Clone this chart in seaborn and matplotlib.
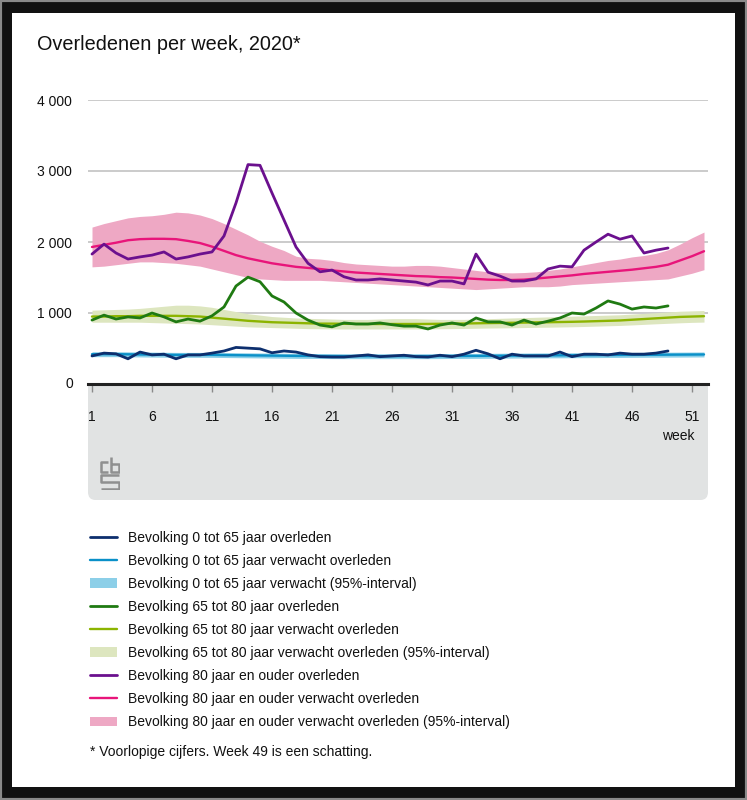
import matplotlib
matplotlib.use("Agg")
import pandas as pd
import matplotlib.pyplot as plt
import seaborn as sns
from matplotlib.patches import Rectangle, FancyBboxPatch, Patch
from matplotlib.lines import Line2D

# ========== DATA ==========
weeks_obs = list(range(1, 50))
weeks_exp = list(range(1, 53))

# 0 tot 65 jaar
obs_0_65 = [395, 435, 425, 355, 450, 410, 420, 355, 410, 410, 435, 465, 515, 505, 495,
            440, 465, 450, 410, 385, 380, 380, 395, 410, 385, 395, 405, 385, 380, 405,
            385, 420, 475, 425, 355, 420, 395, 395, 395, 450, 385, 420, 420, 410, 435,
            420, 420, 435, 465]
exp_0_65 = [420, 420, 420, 418, 416, 414, 412, 410, 410, 410, 410, 408, 406, 404, 402,
            400, 398, 396, 395, 394, 393, 392, 392, 392, 392, 392, 392, 392, 392, 393,
            394, 395, 396, 397, 398, 400, 401, 402, 403, 404, 405, 406, 407, 408, 409,
            410, 411, 412, 413, 414, 415, 416]
lo_0_65 = [v - 35 for v in exp_0_65]
hi_0_65 = [v + 35 for v in exp_0_65]

# 65 tot 80 jaar
obs_65_80 = [900, 970, 915, 945, 930, 1000, 945, 875, 915, 885, 960, 1085, 1380, 1505, 1440,
             1240, 1155, 1000, 900, 830, 805, 860, 845, 845, 860, 835, 815, 815, 775, 830,
             860, 830, 930, 875, 875, 830, 900, 845, 885, 930, 1000, 985, 1070, 1170, 1125,
             1055, 1085, 1070, 1100]
exp_65_80 = [950, 950, 955, 955, 960, 960, 960, 960, 955, 950, 935, 920, 905, 890, 880,
             870, 865, 860, 855, 850, 850, 848, 846, 845, 845, 845, 845, 845, 846, 848,
             850, 852, 855, 858, 860, 862, 865, 868, 870, 873, 876, 880, 885, 890, 895,
             905, 915, 925, 935, 945, 950, 955]
hi_65_80 = [1040, 1045, 1050, 1055, 1065, 1080, 1095, 1110, 1110, 1100, 1080, 1050, 1020, 990, 970,
            950, 940, 930, 925, 920, 915, 910, 910, 910, 915, 920, 920, 920, 915, 910,
            910, 910, 915, 920, 925, 930, 935, 940, 945, 950, 955, 960, 965, 970, 975,
            985, 995, 1005, 1015, 1025, 1030, 1035]
lo_65_80 = [870, 870, 870, 870, 870, 865, 860, 855, 850, 845, 835, 825, 815, 805, 800,
            795, 790, 785, 780, 778, 776, 775, 775, 775, 775, 775, 775, 775, 775, 778,
            780, 782, 785, 788, 790, 792, 795, 798, 800, 803, 806, 810, 815, 820, 825,
            832, 840, 848, 855, 862, 868, 872]

# 80 jaar en ouder
obs_80 = [1830, 1970, 1845, 1760, 1790, 1815, 1860, 1760, 1790, 1830, 1860, 2085, 2550, 3090, 3080,
          2690, 2310, 1930, 1700, 1580, 1605, 1510, 1465, 1465, 1480, 1465, 1450, 1435, 1395, 1450,
          1450, 1410, 1830, 1575, 1520, 1450, 1450, 1480, 1620, 1660, 1650, 1885, 2000, 2110, 2040,
          2085, 1845, 1885, 1915]
exp_80 = [1930, 1960, 1990, 2025, 2040, 2045, 2045, 2040, 2015, 1985, 1935, 1875, 1815, 1770, 1735,
          1700, 1675, 1650, 1635, 1620, 1600, 1585, 1570, 1560, 1550, 1540, 1530, 1520, 1515, 1505,
          1500, 1490, 1480, 1470, 1465, 1465, 1470, 1485, 1500, 1515, 1530, 1550, 1565, 1580, 1595,
          1610, 1630, 1650, 1680, 1740, 1800, 1870]
hi_80 = [2210, 2260, 2300, 2340, 2360, 2370, 2390, 2420, 2410, 2380, 2330, 2260, 2180, 2100, 2010,
         1940, 1880, 1800, 1770, 1760, 1740, 1710, 1690, 1680, 1670, 1660, 1660, 1670, 1670, 1660,
         1640, 1620, 1600, 1580, 1570, 1565, 1570, 1580, 1600, 1620, 1650, 1680, 1710, 1740, 1760,
         1790, 1810, 1840, 1890, 1970, 2060, 2140]
lo_80 = [1650, 1660, 1680, 1700, 1720, 1720, 1710, 1700, 1680, 1660, 1620, 1580, 1540, 1500, 1480,
         1470, 1460, 1460, 1460, 1460, 1450, 1440, 1430, 1420, 1410, 1400, 1390, 1380, 1370, 1360,
         1350, 1340, 1330, 1340, 1350, 1360, 1370, 1370, 1370, 1380, 1400, 1410, 1420, 1430, 1440,
         1450, 1460, 1470, 1480, 1520, 1560, 1610]

y_ticks = [0, 1000, 2000, 3000, 4000]
y_labels = ["", "1 000", "2 000", "3 000", "4 000"]
x_ticks = list(range(1, 52, 5))

labels = [
    "Bevolking 0 tot 65 jaar overleden",
    "Bevolking 0 tot 65 jaar verwacht overleden",
    "Bevolking 0 tot 65 jaar verwacht (95%-interval)",
    "Bevolking 65 tot 80 jaar overleden",
    "Bevolking 65 tot 80 jaar verwacht overleden",
    "Bevolking 65 tot 80 jaar verwacht overleden (95%-interval)",
    "Bevolking 80 jaar en ouder overleden",
    "Bevolking 80 jaar en ouder verwacht overleden",
    "Bevolking 80 jaar en ouder verwacht overleden (95%-interval)",
]

# ========== STYLE ==========
C_OBS_0, C_EXP_0, C_BAND_0 = "#0d2f6e", "#0a90c8", "#8ccfe8"
C_OBS_65, C_EXP_65, C_BAND_65 = "#1f7a12", "#8cb400", "#dde6bf"
C_OBS_80, C_EXP_80, C_BAND_80 = "#6b108e", "#e8157a", "#eea8c4"

W, H = 747, 800

sns.set_theme(style="white")
plt.rcParams["font.family"] = ["Liberation Sans", "DejaVu Sans"]

fig = plt.figure(figsize=(W / 100, H / 100), dpi=100, facecolor="#111111")

# frame: white card inside black border
fig.patches.append(Rectangle((12 / W, 13 / H), 723 / W, 774 / H, transform=fig.transFigure,
                             facecolor="white", edgecolor="none", zorder=-3))
fig.patches.append(Rectangle((0, 0), 1, 1, transform=fig.transFigure, fill=False,
                             edgecolor="#8a8a8a", lw=3, zorder=-2))
# grey panel under the x axis
fig.patches.append(FancyBboxPatch((88 / W, (H - 500) / H), 620 / W, 130 / H,
                                  boxstyle="round,pad=0,rounding_size=0.01",
                                  transform=fig.transFigure, facecolor="#e1e3e3",
                                  edgecolor="none", zorder=-1))

ax = fig.add_axes([88 / W, (H - 384) / H, 620 / W, 284 / H])
ax.set_facecolor("white")

# bands
ax.fill_between(weeks_exp, lo_0_65, hi_0_65, color=C_BAND_0, lw=0, zorder=1)
ax.fill_between(weeks_exp, lo_65_80, hi_65_80, color=C_BAND_65, lw=0, zorder=1)
ax.fill_between(weeks_exp, lo_80, hi_80, color=C_BAND_80, lw=0, zorder=1)

# expected lines
for ys, c in [(exp_0_65, C_EXP_0), (exp_65_80, C_EXP_65), (exp_80, C_EXP_80)]:
    sns.lineplot(x=weeks_exp, y=ys, ax=ax, color=c, lw=1.7, legend=False, zorder=2)

# observed lines
for ys, c in [(obs_0_65, C_OBS_0), (obs_65_80, C_OBS_65), (obs_80, C_OBS_80)]:
    sns.lineplot(x=weeks_obs, y=ys, ax=ax, color=c, lw=2.0, legend=False, zorder=3)

ax.set_xlim(1 - 4 / 12, 1 + 616 / 12)
ax.set_ylim(0, 4000)
ax.set_xticks(x_ticks)
ax.set_xticklabels([str(t) for t in x_ticks])
ax.set_yticks(y_ticks)
ax.set_yticklabels(y_labels, ha="left")
ax.set_xlabel("")
ax.set_ylabel("")
ax.text(-22 / 620, 0, "0", transform=ax.get_yaxis_transform(), ha="left", va="center",
        fontsize=10, color="#111111")

ax.grid(False)
ax.yaxis.grid(True, color="#c2c2c2", lw=1.2)
ax.set_axisbelow(True)
for s in ["top", "right", "left"]:
    ax.spines[s].set_visible(False)
ax.spines["bottom"].set_color("#222222")
ax.spines["bottom"].set_linewidth(2.2)
ax.spines["bottom"].set_zorder(4)

ax.tick_params(axis="x", length=6, width=1, color="#8a8a8a", pad=13, labelsize=10,
               labelcolor="#111111", bottom=True)
ax.tick_params(axis="y", length=0, pad=36.7, labelsize=10, labelcolor="#111111")

# texts
fig.text(37 / W, (H - 45) / H, "Overledenen per week, 2020*", fontsize=14.3, va="center",
         color="#111111")
fig.text(695 / W, (H - 436) / H, "week", ha="right", va="center", fontsize=10, color="#111111")
fig.text(90 / W, (H - 752) / H, "* Voorlopige cijfers. Week 49 is een schatting.",
         va="center", fontsize=10, color="#111111")

# cbs logo (rough)
lax = fig.add_axes([100 / W, (H - 490) / H, 20 / W, 34 / H])
lax.set_xlim(0, 20)
lax.set_ylim(34, 0)
lax.axis("off")
lg = dict(color="#8f9090", lw=1.8, solid_capstyle="butt")
lax.plot([8, 1, 1, 8], [6, 6, 16, 16], **lg)
lax.plot([11, 11, 19, 19, 11], [1, 16, 16, 8, 8], **lg)
lax.plot([19, 1, 1, 19, 19, 1], [19, 19, 26, 26, 33, 33], **lg)

# legend
handles = [
    Line2D([], [], color=C_OBS_0, lw=2.0),
    Line2D([], [], color=C_EXP_0, lw=1.7),
    Patch(facecolor=C_BAND_0, edgecolor="none"),
    Line2D([], [], color=C_OBS_65, lw=2.0),
    Line2D([], [], color=C_EXP_65, lw=1.7),
    Patch(facecolor=C_BAND_65, edgecolor="none"),
    Line2D([], [], color=C_OBS_80, lw=2.0),
    Line2D([], [], color=C_EXP_80, lw=1.7),
    Patch(facecolor=C_BAND_80, edgecolor="none"),
]
leg = fig.legend(handles, labels, loc="upper left", bbox_to_anchor=(90 / W, (H - 531) / H),
                 frameon=False, fontsize=10, handlelength=1.95, handletextpad=0.8,
                 labelspacing=0.65, borderpad=0, borderaxespad=0)
for t in leg.get_texts():
    t.set_color("#111111")

fig.savefig("out.png", dpi=100, facecolor=fig.get_facecolor())
